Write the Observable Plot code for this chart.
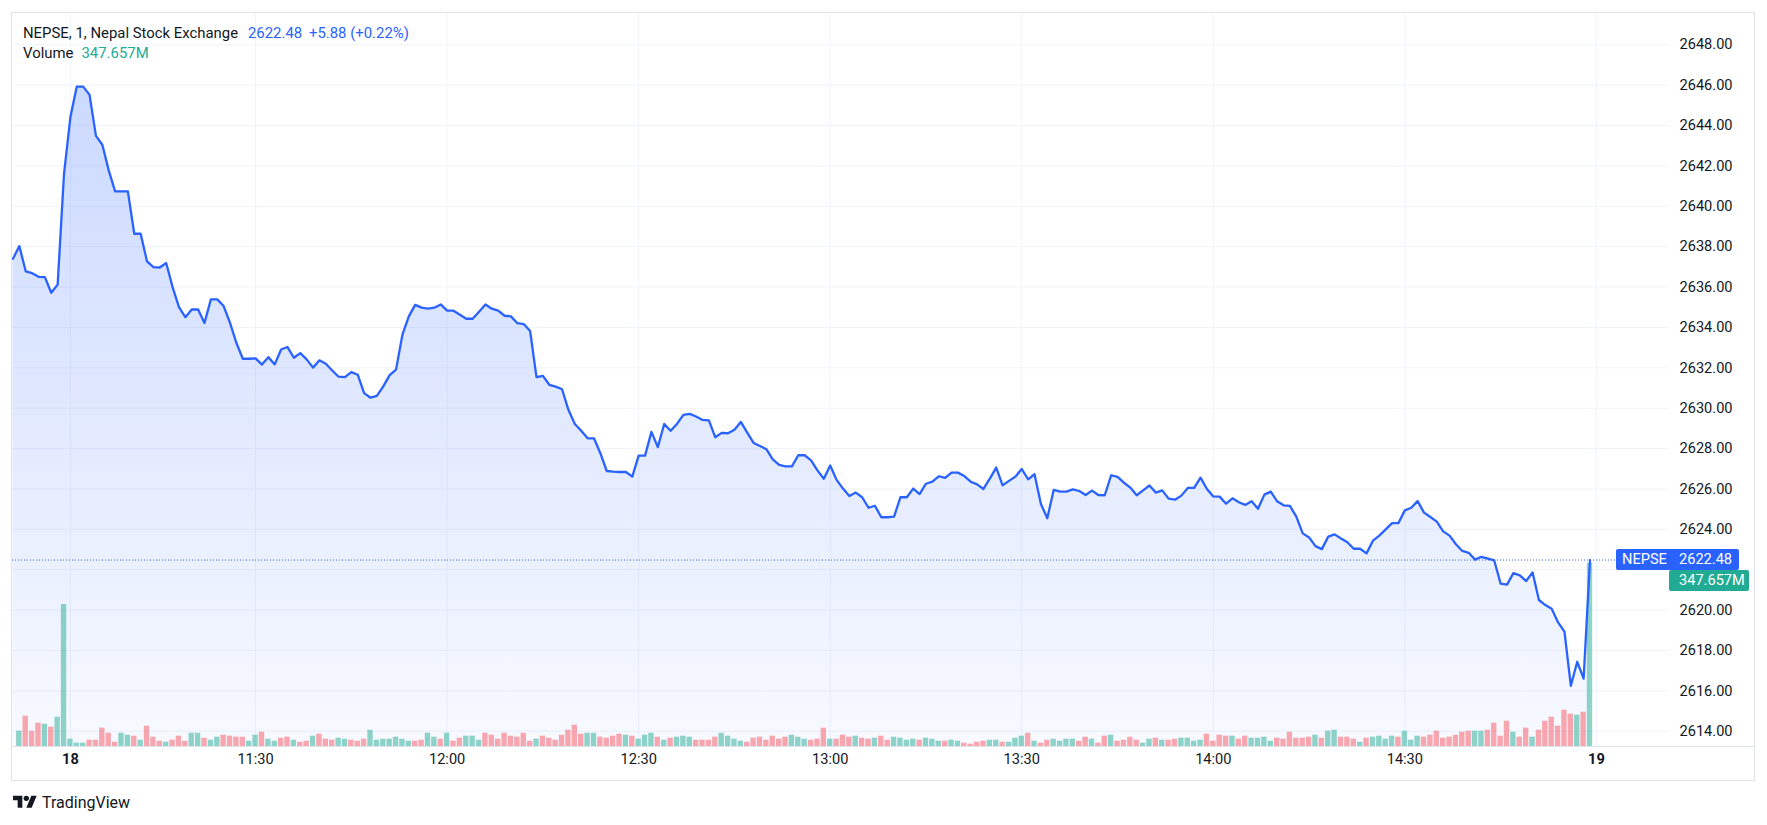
<!DOCTYPE html>
<html>
<head>
<meta charset="utf-8">
<script src="https://cdn.jsdelivr.net/npm/d3@7"></script>
<script src="https://cdn.jsdelivr.net/npm/@observablehq/plot@0.6"></script>
<style>
  html, body { margin: 0; padding: 0; background: #ffffff; }
  body { width: 1767px; height: 825px; position: relative; overflow: hidden;
         font-family: "Trebuchet MS", Roboto, "Noto Sans", sans-serif; color: #131722; }
  #frame { position: absolute; left: 11px; top: 12px; width: 1744px; height: 769px;
           box-sizing: border-box; border: 1px solid #e0e3eb; }
  #chart { position: absolute; left: 12px; top: 13px; }
  #timeSep { position: absolute; left: 12px; width: 1742px; height: 1px; background: #e0e3eb; }
  .hdr { position: absolute; font-size: 14.9px; line-height: 20px; white-space: nowrap; }
  .tag { position: absolute; height: 20.7px; line-height: 20.7px; font-size: 14.6px; color: #fff; white-space: nowrap; box-sizing: border-box; }
  #footer { position: absolute; left: 42px; top: 793px; font-size: 16px; line-height: 20px; color: #131722; font-family: Roboto, "Noto Sans", sans-serif; }
</style>
</head>
<body>
<div id="frame"></div>
<div id="chart"></div>
<div id="timeSep"></div>

<div class="hdr" style="left:23px; top:23.3px;">NEPSE, 1, Nepal Stock Exchange</div>
<div class="hdr" id="hdrPrice" style="left:248px; top:23.3px; color:#2962ff;"></div>
<div class="hdr" id="hdrChange" style="left:309px; top:23.3px; color:#2962ff;"></div>
<div class="hdr" style="left:23px; top:43.3px;">Volume</div>
<div class="hdr" id="hdrVol" style="left:81.5px; top:43.3px; color:#22ab94;"></div>

<svg id="logo" style="position:absolute; left:13px; top:793.3px;" width="24" height="18.7" viewBox="0 0 36 28">
  <path fill="#131722" d="M14 22H7V11H0V4h14v18zM28 22h-8l7.5-18h8L28 22z"></path>
  <circle fill="#131722" cx="20" cy="8" r="4"></circle>
</svg>
<div id="footer">TradingView</div>

<script>
// ---------------- data ----------------
// Close prices, one per minute, minutes relative to 11:00 (first value at -8)
const priceStartMinute = -8;
const prices = [
  2637.40, 2638.03, 2636.78, 2636.69, 2636.51, 2636.49, 2635.72, 2636.12, 2641.61, 2644.42,
  2645.93, 2645.93, 2645.52, 2643.49, 2643.05, 2641.78, 2640.74, 2640.74, 2640.74, 2638.64,
  2638.64, 2637.27, 2636.99, 2636.97, 2637.19, 2636.00, 2635.01, 2634.51, 2634.89, 2634.89,
  2634.22, 2635.39, 2635.39, 2635.06, 2634.23, 2633.23, 2632.45, 2632.45, 2632.47, 2632.16,
  2632.53, 2632.17, 2632.91, 2633.03, 2632.50, 2632.73, 2632.42, 2632.01, 2632.37, 2632.20,
  2631.87, 2631.56, 2631.54, 2631.79, 2631.66, 2630.75, 2630.52, 2630.61, 2631.08, 2631.64,
  2631.91, 2633.64, 2634.55, 2635.12, 2634.98, 2634.93, 2634.98, 2635.14, 2634.83, 2634.83,
  2634.63, 2634.43, 2634.43, 2634.78, 2635.14, 2634.93, 2634.83, 2634.58, 2634.55, 2634.21,
  2634.17, 2633.82, 2631.54, 2631.60, 2631.16, 2631.07, 2630.94, 2629.92, 2629.22, 2628.88,
  2628.51, 2628.51, 2627.77, 2626.89, 2626.86, 2626.84, 2626.84, 2626.61, 2627.65, 2627.65,
  2628.83, 2628.07, 2629.22, 2628.88, 2629.22, 2629.67, 2629.72, 2629.59, 2629.42, 2629.40,
  2628.56, 2628.78, 2628.76, 2628.93, 2629.32, 2628.79, 2628.28, 2628.13, 2627.97, 2627.47,
  2627.19, 2627.12, 2627.12, 2627.67, 2627.67, 2627.42, 2626.92, 2626.51, 2627.16, 2626.45,
  2626.02, 2625.65, 2625.82, 2625.59, 2625.07, 2625.17, 2624.60, 2624.60, 2624.63, 2625.59,
  2625.59, 2626.02, 2625.75, 2626.26, 2626.36, 2626.63, 2626.55, 2626.81, 2626.81, 2626.64,
  2626.36, 2626.23, 2626.00, 2626.51, 2627.06, 2626.18, 2626.40, 2626.61, 2626.99, 2626.48,
  2626.73, 2625.26, 2624.55, 2625.95, 2625.87, 2625.87, 2625.98, 2625.90, 2625.70, 2625.92,
  2625.70, 2625.69, 2626.68, 2626.60, 2626.31, 2626.07, 2625.69, 2625.93, 2626.17, 2625.82,
  2625.93, 2625.52, 2625.47, 2625.67, 2626.05, 2626.05, 2626.56, 2626.00, 2625.63, 2625.62,
  2625.27, 2625.54, 2625.34, 2625.21, 2625.39, 2625.02, 2625.72, 2625.87, 2625.39, 2625.19,
  2625.16, 2624.63, 2623.80, 2623.60, 2623.17, 2623.02, 2623.64, 2623.75, 2623.55, 2623.36,
  2623.04, 2623.04, 2622.81, 2623.44, 2623.69, 2624.00, 2624.31, 2624.31, 2624.94, 2625.07,
  2625.40, 2624.83, 2624.61, 2624.38, 2623.90, 2623.69, 2623.26, 2622.93, 2622.84, 2622.50,
  2622.64, 2622.55, 2622.46, 2621.31, 2621.26, 2621.83, 2621.72, 2621.44, 2621.87, 2620.50,
  2620.25, 2620.07, 2619.39, 2618.93, 2616.25, 2617.44, 2616.61, 2622.48
];

// Volume per minute bar (millions), first bar at minute -7
const volumeStartMinute = -7;
const volumes = [
  30.2, 58.6, 30.2, 45.3, 43.4, 37.8, 56.7, 269.5, 15.1, 7.6,
  7.6, 13.2, 13.2, 35.9, 26.4, 9.4, 26.4, 22.7, 20.8, 13.2,
  39.7, 18.9, 11.3, 9.4, 13.2, 20.8, 11.3, 26.4, 26.4, 17.0,
  13.2, 18.9, 22.7, 20.8, 18.9, 18.9, 11.3, 22.7, 28.3, 15.1,
  11.3, 17.0, 18.9, 13.2, 9.4, 11.3, 20.8, 24.6, 15.1, 13.2,
  17.0, 15.1, 13.2, 11.3, 15.1, 32.1, 13.2, 15.1, 15.1, 18.9,
  15.1, 11.3, 11.3, 13.2, 26.4, 18.9, 15.1, 26.4, 11.3, 17.0,
  20.8, 20.8, 13.2, 26.4, 22.7, 15.1, 26.4, 20.8, 18.9, 26.4,
  11.3, 15.1, 20.8, 17.0, 13.2, 22.7, 32.1, 41.6, 24.6, 26.4,
  26.4, 18.9, 17.0, 20.8, 24.6, 22.7, 20.8, 15.1, 22.7, 26.4,
  18.9, 13.2, 17.0, 18.9, 20.8, 18.9, 13.2, 13.2, 13.2, 18.9,
  26.4, 20.8, 15.1, 11.3, 9.4, 17.0, 18.9, 13.2, 20.8, 15.1,
  18.9, 22.7, 18.9, 15.1, 13.2, 15.1, 35.9, 15.1, 15.1, 22.7,
  18.9, 20.8, 17.0, 15.1, 17.0, 20.8, 13.2, 18.9, 17.0, 13.2,
  15.1, 13.2, 17.0, 15.1, 11.3, 11.3, 13.2, 11.3, 7.6, 5.7,
  9.4, 11.3, 13.2, 13.2, 9.4, 9.4, 17.0, 20.8, 26.4, 11.3,
  7.6, 13.2, 15.1, 11.3, 15.1, 15.1, 11.3, 18.9, 15.1, 7.6,
  20.8, 22.7, 11.3, 13.2, 18.9, 13.2, 7.6, 15.1, 17.0, 13.2,
  13.2, 15.1, 17.0, 17.0, 11.3, 13.2, 24.6, 11.3, 22.7, 20.8,
  20.8, 15.1, 20.8, 17.0, 17.0, 18.9, 11.3, 17.0, 15.1, 28.3,
  17.0, 17.0, 18.9, 22.7, 17.0, 30.2, 32.1, 18.9, 18.9, 15.1,
  9.4, 17.0, 18.9, 20.8, 15.1, 20.8, 18.9, 30.2, 13.2, 20.8,
  18.9, 22.7, 30.2, 17.0, 18.9, 22.7, 28.3, 30.2, 30.2, 30.2,
  32.1, 45.3, 20.8, 49.1, 28.3, 18.9, 35.9, 18.9, 32.1, 49.1,
  56.7, 39.7, 69.9, 62.3, 60.5, 66.1, 347.657
];

// Bar direction: u = up (green), d = down (red)
const volumeDirections = (
  "uddduduuuu" + "uddddduudu" + "ddduddduud" + "uudddduudu" + "uddudduddd" +
  "uuddduuuuu" + "uudduududd" + "uuuddddddd" + "dudddddddu" + "udddduduuu" +
  "duduuudddd" + "uuuudddddd" + "duuudddudd" + "duddudduuu" + "uduuuduudd" +
  "dduuduuudu" + "dduuuuddud" + "dudddduudu" + "dduuuudddd" + "udduuuuddd" +
  "ddduduuddd" + "uduuuuduuu" + "dddddddduu" + "dddduddudd" + "ddddudu"
).split("");

// Axis ticks
const timeTickMinutes = [1, 30, 60, 90, 120, 150, 180, 210, 240];
const timeTickLabels = ["18", "11:30", "12:00", "12:30", "13:00", "13:30", "14:00", "14:30", "19"];
const timeTickBold = [true, false, false, false, false, false, false, false, true];
const priceGrid = [2614, 2616, 2618, 2620, 2622, 2624, 2626, 2628, 2630, 2632, 2634, 2636, 2638, 2640, 2642, 2644, 2646, 2648];
// 2622.00 is hidden behind the last-value tags in the reference
const priceTickLabels = [2614, 2616, 2618, 2620, 2624, 2626, 2628, 2630, 2632, 2634, 2636, 2638, 2640, 2642, 2644, 2646, 2648];

const symbolName = "NEPSE";
const lastPrice = 2622.48;
const priceChange = "+5.88 (+0.22%)";
const lastVolumeText = "347.657M";

// ---------------- layout / style ----------------
const FONT = '"Trebuchet MS", Roboto, "Noto Sans", sans-serif';
const W = 1742, H = 767;
const M_RIGHT = 85, M_BOTTOM = 33.3;
const Y_DOMAIN = [2613.21, 2649.55];
const X_DOMAIN = [-8.07, 251.45];
const VOL_PER_PRICE_UNIT = 38.14; // millions of volume per price unit of height
const UP = "#22ab94", DOWN = "#f7525f", LINE = "#2962ff";

const priceData = prices.map((p, i) => ({t: priceStartMinute + i, p}));
const volData = volumes.map((v, i) => ({t: volumeStartMinute + i, v, dir: volumeDirections[i]}));
const tickData = timeTickMinutes.map((t, i) => ({t, label: timeTickLabels[i], bold: timeTickBold[i]}));

const base = Y_DOMAIN[0];

const chart = Plot.plot({
  width: W,
  height: H,
  marginLeft: 0,
  marginRight: M_RIGHT,
  marginTop: 0,
  marginBottom: M_BOTTOM,
  style: {background: "transparent", overflow: "visible", fontFamily: FONT, fontSize: "14.6px", color: "#131722"},
  x: {domain: X_DOMAIN, axis: null, label: null},
  y: {domain: Y_DOMAIN, label: null},
  marks: [
    Plot.gridY(priceGrid, {stroke: "#f0f3fa", strokeOpacity: 1, strokeWidth: 1}),
    Plot.gridX(timeTickMinutes, {stroke: "#f0f3fa", strokeOpacity: 1, strokeWidth: 1}),
    Plot.areaY(priceData, {x: "t", y1: base, y2: "p", fill: "url(#areaGrad)", clip: true}),
    Plot.rectY(volData, {
      x1: d => d.t - 0.42, x2: d => d.t + 0.42,
      y1: base, y2: d => base + d.v / VOL_PER_PRICE_UNIT,
      fill: d => d.dir === "u" ? UP : DOWN, fillOpacity: 0.5, clip: true
    }),
    Plot.ruleY([lastPrice], {stroke: LINE, strokeWidth: 1, strokeDasharray: "1,2"}),
    Plot.lineY(priceData, {x: "t", y: "p", stroke: LINE, strokeWidth: 2.3, strokeLinejoin: "round", clip: true}),
    Plot.axisY(priceTickLabels, {anchor: "right", label: null, tickSize: 0, tickPadding: 10, tickFormat: d3.format(".2f"), fill: "#131722", fontSize: 14.6}),
    Plot.text(tickData.filter(d => !d.bold), {x: "t", text: "label", frameAnchor: "bottom", dy: 16.6, fill: "#131722", fontSize: 14.6}),
    Plot.text(tickData.filter(d => d.bold), {x: "t", text: "label", frameAnchor: "bottom", dy: 16.6, fill: "#131722", fontSize: 14.6, fontWeight: "bold"})
  ]
});

// gradient for area
const defs = d3.select(chart).insert("defs", ":first-child");
const grad = defs.append("linearGradient").attr("id", "areaGrad").attr("x1", 0).attr("y1", 0).attr("x2", 0).attr("y2", 1);
grad.append("stop").attr("offset", "0%").attr("stop-color", LINE).attr("stop-opacity", 0.24);
grad.append("stop").attr("offset", "100%").attr("stop-color", LINE).attr("stop-opacity", 0.035);

document.getElementById("chart").appendChild(chart);

// time axis separator at the bottom of the plot area
const yScale = chart.scale("y");
const plotBottom = 13 + (H - M_BOTTOM);
document.getElementById("timeSep").style.top = (plotBottom - 0.5) + "px";

// header texts
document.getElementById("hdrPrice").textContent = lastPrice.toFixed(2);
document.getElementById("hdrChange").textContent = priceChange;
document.getElementById("hdrVol").textContent = lastVolumeText;

// last-value tags on the price scale
const yLast = 13 + yScale.apply(lastPrice);
const tagH = 20.7;
const blue = document.createElement("div");
blue.className = "tag";
blue.style.cssText = `left:1616px; top:${yLast - tagH / 2}px; width:123px; background:${LINE}; border-radius:2px; font-family:${FONT};`;
blue.innerHTML = `<span style="position:absolute; left:6px;">${symbolName}</span><span style="position:absolute; left:63px;">${lastPrice.toFixed(2)}</span>`;
document.body.appendChild(blue);

const green = document.createElement("div");
green.className = "tag";
green.style.cssText = `left:1669px; top:${yLast + tagH / 2 + 0.3}px; width:80px; background:${UP}; border-radius:2px; font-family:${FONT};`;
green.innerHTML = `<span style="position:absolute; left:10px;">${lastVolumeText}</span>`;
document.body.appendChild(green);
</script>
</body>
</html>
